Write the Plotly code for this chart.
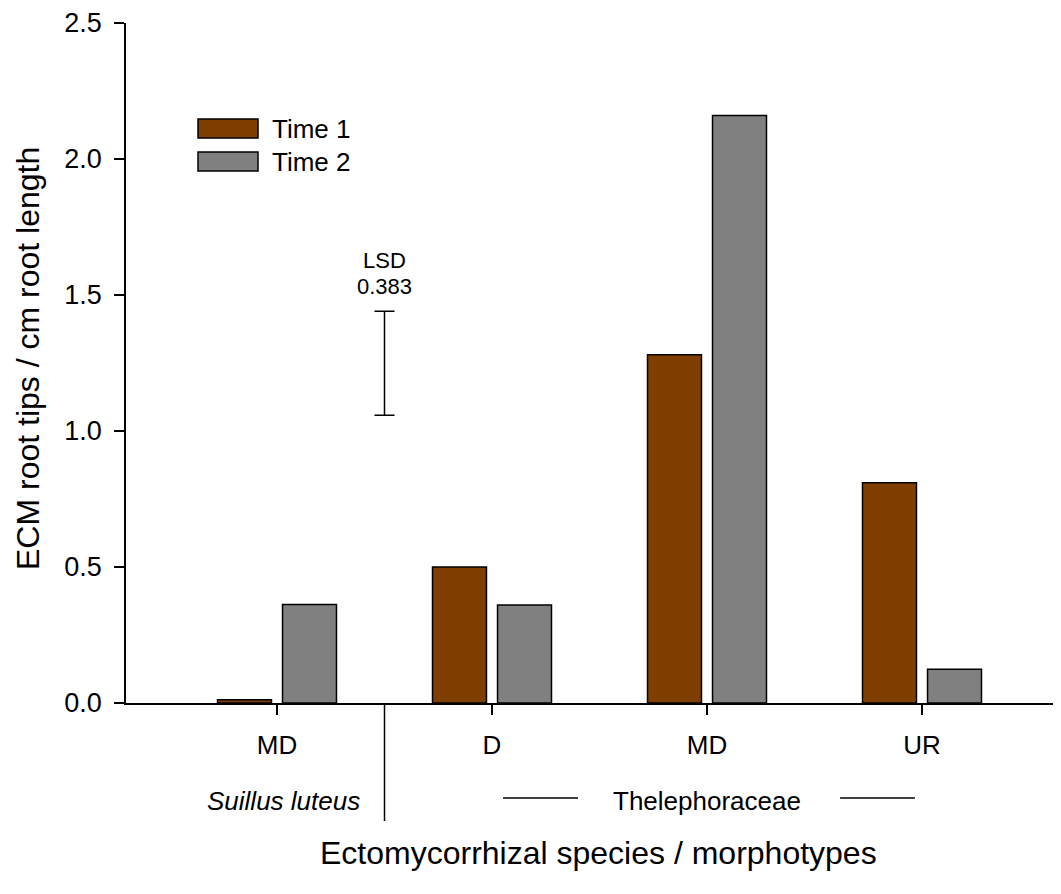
import plotly.graph_objects as go

# ---- data ----
categories = ["MD", "D", "MD", "UR"]
time1 = [0.012, 0.50, 1.28, 0.81]
time2 = [0.362, 0.36, 2.16, 0.124]
series_names = ["Time 1", "Time 2"]
y_ticks = [0.0, 0.5, 1.0, 1.5, 2.0, 2.5]
lsd_value = 0.383
lsd_center = 1.249
groups = ["Suillus luteus", "Thelephoraceae"]

# ---- style ----
FONT = "Liberation Sans, Arial, sans-serif"
BROWN = "#7F3F00"
GREY = "#808080"
# page body has an 8px margin; figure is placed at (8, 8)
OFF = 8
W, H = 1061 - OFF, 894 - OFF
PL, PR, PT, PB = 126, 1061, 23, 703   # plot area in screen pixels
ML = PL - OFF
MT = PT - OFF
PW = PR - PL
PH = PB - PT
MR = W - ML - PW
MB = H - MT - PH

idx = list(range(len(categories)))
off = 0.1512
bw = 0.251

def px_x(px):  # screen pixel -> paper x
    return (px - PL) / PW

def px_y(py):  # screen pixel -> paper y
    return (PB - py) / PH

fig = go.Figure()
fig.add_trace(go.Bar(
    x=[i - off for i in idx], y=time1, width=bw, name=series_names[0],
    marker=dict(color=BROWN, line=dict(color="black", width=1.5)),
    showlegend=False))
fig.add_trace(go.Bar(
    x=[i + off for i in idx], y=time2, width=bw, name=series_names[1],
    marker=dict(color=GREY, line=dict(color="black", width=1.5)),
    showlegend=False))

# LSD bar
fig.add_trace(go.Scatter(
    x=[0.5], y=[lsd_center], mode="markers",
    marker=dict(size=1, color="rgba(0,0,0,0)"),
    error_y=dict(type="data", array=[lsd_value / 2], color="black",
                 thickness=1.5, width=10),
    showlegend=False, hoverinfo="skip"))

fig.add_annotation(x=0.5, y=px_y(260), xref="x", yref="paper", text="LSD",
                   showarrow=False, xanchor="center", yanchor="middle",
                   font=dict(family=FONT, size=22, color="black"))
fig.add_annotation(x=0.5, y=px_y(286), xref="x", yref="paper", text=f"{lsd_value:.3f}",
                   showarrow=False, xanchor="center", yanchor="middle",
                   font=dict(family=FONT, size=22, color="black"))

# Custom legend
leg_y = [128.5, 161.5]
for name, col, yc in zip(series_names, [BROWN, GREY], leg_y):
    fig.add_shape(type="rect", xref="paper", yref="paper",
                  x0=px_x(198), x1=px_x(258), y0=px_y(yc + 9.5), y1=px_y(yc - 9.5),
                  fillcolor=col, line=dict(color="black", width=1.5))
    fig.add_annotation(x=px_x(270), y=px_y(yc), xref="paper", yref="paper",
                       text=name, showarrow=False, xanchor="left", yanchor="middle",
                       font=dict(family=FONT, size=26, color="black"))

# Divider between groups
fig.add_shape(type="line", xref="x", yref="paper", x0=0.5, x1=0.5,
              y0=0, y1=px_y(821), line=dict(color="black", width=1.5))

# Group labels
fig.add_annotation(x=(283 - 277) / 215, y=px_y(801), xref="x", yref="paper",
                   text=f"<i>{groups[0]}</i>", showarrow=False,
                   xanchor="center", yanchor="middle",
                   font=dict(family=FONT, size=26, color="black"))
fig.add_annotation(x=2.0, y=px_y(801), xref="x", yref="paper",
                   text=groups[1], showarrow=False,
                   xanchor="center", yanchor="middle",
                   font=dict(family=FONT, size=26, color="black"))
for a, b in [(1.051, 1.400), (2.619, 2.967)]:
    fig.add_shape(type="line", xref="x", yref="paper", x0=a, x1=b,
                  y0=px_y(798), y1=px_y(798), line=dict(color="black", width=1.5))

# Axis titles
fig.add_annotation(x=px_x(28), y=px_y(359), xref="paper", yref="paper",
                   text="ECM root tips / cm root length", textangle=-90,
                   showarrow=False, xanchor="center", yanchor="middle",
                   font=dict(family=FONT, size=32, color="black"))
fig.add_annotation(x=px_x(598), y=px_y(853), xref="paper", yref="paper",
                   text="Ectomycorrhizal species / morphotypes",
                   showarrow=False, xanchor="center", yanchor="middle",
                   font=dict(family=FONT, size=32, color="black"))

xmin = -151 / 215
xmax = xmin + PW / 215
fig.update_layout(
    width=W, height=H,
    margin=dict(l=ML, r=MR, t=MT, b=MB, pad=0),
    paper_bgcolor="white", plot_bgcolor="white",
    barmode="overlay",
    font=dict(family=FONT, color="black"),
    xaxis=dict(range=[xmin, xmax], tickvals=idx, ticktext=categories,
               showline=True, linecolor="black", linewidth=2,
               ticks="outside", ticklen=10, tickwidth=1.5, tickcolor="black",
               ticklabelstandoff=8,
               showgrid=False, zeroline=False,
               tickfont=dict(family=FONT, size=26, color="black")),
    yaxis=dict(range=[0, 2.5], tickvals=y_ticks, tickformat=".1f",
               showline=True, linecolor="black", linewidth=1.5,
               ticks="outside", ticklen=10, tickwidth=1.5, tickcolor="black",
               ticklabelstandoff=7,
               showgrid=False, zeroline=False,
               tickfont=dict(family=FONT, size=27, color="black")),
)

fig.write_html("out.html")
